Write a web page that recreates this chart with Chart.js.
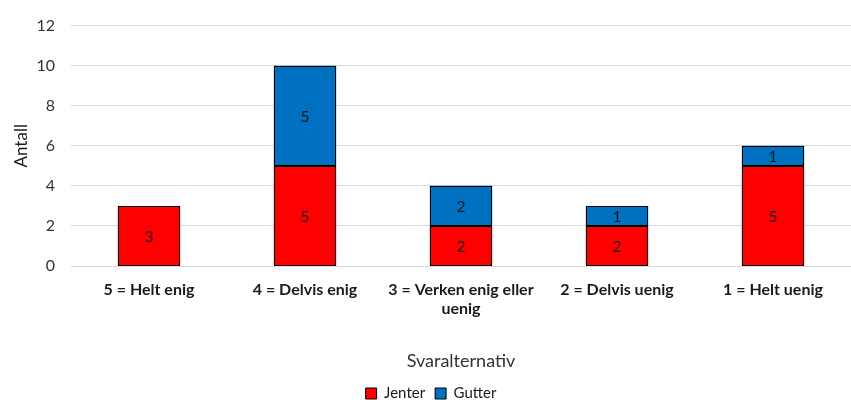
<!DOCTYPE html>
<html>
<head>
<meta charset="utf-8">
<script src="https://cdn.jsdelivr.net/npm/chart.js@4"></script>
<style>
html,body{margin:0;padding:0;background:#fff;}
#wrap{width:851px;height:400px;position:relative;}
</style>
</head>
<body>
<div id="wrap"><canvas id="c" width="851" height="400"></canvas></div>
<script>
const categories = [["5 = Helt enig"], ["4 = Delvis enig"], ["3 = Verken enig eller", "uenig"], ["2 = Delvis uenig"], ["1 = Helt uenig"]];
const jenter = [3, 5, 2, 2, 5];
const gutter = [0, 5, 2, 1, 1];
const yTicks = [0, 2, 4, 6, 8, 10, 12];
const FONT = "Lato, 'Liberation Sans', sans-serif";

const labelPlugin = {
  id: 'barLabels',
  afterDatasetsDraw(chart) {
    const ctx = chart.ctx;
    ctx.save();
    // crisp black outlines around each non-empty bar segment
    ctx.strokeStyle = '#000';
    ctx.lineWidth = 1;
    chart.data.datasets.forEach((ds, i) => {
      const meta = chart.getDatasetMeta(i);
      meta.data.forEach((bar, j) => {
        if (!ds.data[j]) return;
        const l = Math.round(bar.x - bar.width / 2) + 0.5;
        const r = Math.round(bar.x + bar.width / 2) - 0.5;
        const t = Math.round(Math.min(bar.y, bar.base)) + 0.5;
        const b = Math.round(Math.max(bar.y, bar.base)) - 0.5;
        ctx.strokeRect(l, t, r - l, b - t);
      });
    });
    ctx.font = "16px " + FONT;
    ctx.fillStyle = '#1a1a1a';
    ctx.textAlign = 'center';
    ctx.textBaseline = 'middle';
    chart.data.datasets.forEach((ds, i) => {
      const meta = chart.getDatasetMeta(i);
      meta.data.forEach((bar, j) => {
        const v = ds.data[j];
        if (!v) return;
        const y = (bar.y + bar.base) / 2;
        ctx.fillText(String(v), bar.x, y + 1);
      });
    });
    ctx.restore();
  }
};

new Chart(document.getElementById('c'), {
  type: 'bar',
  data: {
    labels: categories,
    datasets: [
      { label: 'Jenter', data: jenter, backgroundColor: '#FF0000', borderWidth: 0, barPercentage: 0.4, categoryPercentage: 1 },
      { label: 'Gutter', data: gutter, backgroundColor: '#0070C0', borderWidth: 0, barPercentage: 0.4, categoryPercentage: 1 }
    ]
  },
  options: {
    responsive: false,
    animation: false,
    layout: { padding: { top: 2, right: 0, left: 11, bottom: -11 } },
    plugins: {
      legend: {
        position: 'bottom',
        labels: { font: { family: FONT, size: 15 }, color: '#1a1a1a', boxWidth: 11, boxHeight: 11, padding: 10, generateLabels(chart) {
          return chart.data.datasets.map((d, i) => ({ text: d.label, fillStyle: d.backgroundColor, strokeStyle: '#000', lineWidth: 1, datasetIndex: i, hidden: false, fontColor: '#1a1a1a' }));
        } }
      },
      tooltip: { enabled: false }
    },
    scales: {
      x: {
        stacked: true,
        grid: { display: false },
        border: { display: false },
        ticks: { font: { family: FONT, size: 16, weight: 'bold' }, color: '#1a1a1a', maxRotation: 0, autoSkip: false, padding: 6 },
        title: { display: true, text: 'Svaralternativ', font: { family: FONT, size: 18 }, color: '#333', padding: { top: 26, bottom: 4 } }
      },
      y: {
        stacked: true,
        min: 0, max: 12,
        afterBuildTicks(scale) { scale.ticks = yTicks.map(v => ({ value: v })); },
        afterFit(scale) { scale.width = 60; },
        grid: { color: '#d9d9d9', lineWidth: 1, drawTicks: false },
        border: { display: false },
        ticks: { font: { family: FONT, size: 16 }, color: '#333', padding: 16 },
        title: { display: true, text: 'Antall', font: { family: FONT, size: 17 }, color: '#1a1a1a', padding: { top: 0, bottom: 2 } }
      }
    }
  },
  plugins: [labelPlugin]
});
</script>
</body>
</html>
